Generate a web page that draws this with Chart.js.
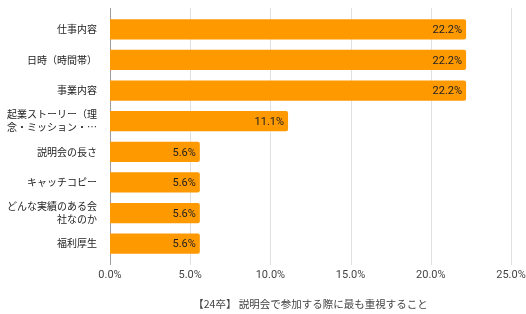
<!DOCTYPE html>
<html>
<head>
<meta charset="utf-8">
<script src="https://cdn.jsdelivr.net/npm/chart.js@4"></script>
<style>
  html, body { margin: 0; padding: 0; background: #fff; }
  #wrap { width: 526px; height: 314px; }
</style>
</head>
<body>
<div id="wrap"><canvas id="chart" width="526" height="314"></canvas></div>
<script>
// categories as shown on the axis (long ones wrapped / cut like the original)
const categories = [
    '仕事内容',
    '日時（時間帯）',
    '事業内容',
    ['起業ストーリー（理', '念・ミッション・…'],
    '説明会の長さ',
    'キャッチコピー',
    ['どんな実績のある会', '社なのか'],
    '福利厚生'
];
const shares = [22.2, 22.2, 22.2, 11.1, 5.6, 5.6, 5.6, 5.6];
const xTicks = [0, 5, 10, 15, 20, 25];
const axisTitle = '【24卒】 説明会で参加する際に最も重視すること';

const FONT = "Roboto, 'Noto Sans CJK JP', sans-serif";
const JP_FONT = "'Noto Sans CJK JP', Roboto, sans-serif";

// grid lines sticking out a bit above/below the plot, like Sheets does
const gridPlugin = {
    id: 'grid',
    beforeDatasetsDraw(chart) {
        const { ctx, chartArea, scales } = chart;
        const top = chartArea.top - 6, bottom = chartArea.bottom + 6;
        ctx.save();
        ctx.lineWidth = 1;
        xTicks.forEach(v => {
            const x = Math.round(scales.x.getPixelForValue(v)) + 0.5;
            ctx.strokeStyle = v === 0 ? '#9e9e9e' : '#e0e0e0';
            ctx.beginPath();
            ctx.moveTo(x, top);
            ctx.lineTo(x, bottom);
            ctx.stroke();
        });
        ctx.restore();
    }
};

// value labels inside the bar end
const labelPlugin = {
    id: 'valueLabels',
    afterDatasetsDraw(chart) {
        const { ctx } = chart;
        const meta = chart.getDatasetMeta(0);
        ctx.save();
        ctx.font = '11px ' + FONT;
        ctx.fillStyle = '#222';
        ctx.textAlign = 'right';
        ctx.textBaseline = 'middle';
        meta.data.forEach((bar, i) => {
            ctx.fillText(shares[i].toFixed(1) + '%', bar.x - 4, bar.y + 1);
        });
        ctx.restore();
    }
};

new Chart(document.getElementById('chart'), {
    type: 'bar',
    data: {
        labels: categories,
        datasets: [{
            data: shares,
            backgroundColor: '#ff9900',
            borderRadius: 2,
            borderSkipped: 'start',
            barPercentage: 0.66,
            categoryPercentage: 1
        }]
    },
    options: {
        indexAxis: 'y',
        responsive: false,
        animation: false,
        layout: { padding: { top: 14, right: 0, left: 0, bottom: 0 } },
        plugins: {
            legend: { display: false },
            tooltip: { enabled: false }
        },
        scales: {
            x: {
                min: 0,
                max: 25,
                afterBuildTicks: s => { s.ticks = xTicks.map(v => ({ value: v })); },
                grid: { display: false, drawTicks: false },
                border: { display: false },
                ticks: {
                    padding: 10,
                    color: '#444',
                    font: { size: 11, family: FONT },
                    callback: v => v.toFixed(1) + '%'
                },
                title: {
                    display: true,
                    text: axisTitle,
                    color: '#444',
                    font: { size: 10.5, family: JP_FONT },
                    padding: { top: 12, bottom: 4 }
                },
                afterFit: s => {
                    s.height = 55;
                    s.paddingRight = 15;
                    s.paddingLeft = 0;
                }
            },
            y: {
                grid: { display: false },
                border: { display: false },
                ticks: {
                    padding: 5,
                    color: '#222',
                    font: { size: 10, family: JP_FONT, lineHeight: 1.3 }
                },
                afterFit: s => { s.width = 110; }
            }
        }
    },
    plugins: [gridPlugin, labelPlugin]
});
</script>
</body>
</html>
